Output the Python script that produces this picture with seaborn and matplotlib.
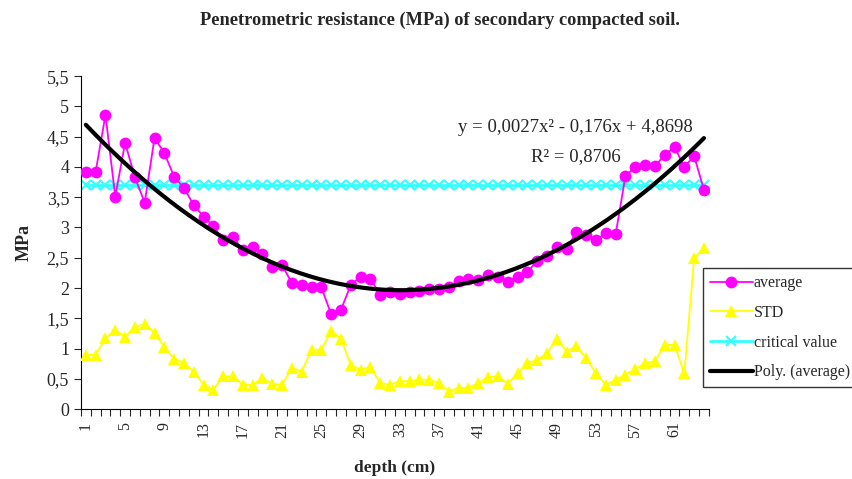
import numpy as np
import pandas as pd
import matplotlib
matplotlib.use("Agg")
import matplotlib.pyplot as plt
import seaborn as sns
from matplotlib.ticker import FixedLocator, FuncFormatter

# depth (cm), one value per centimetre
depth = list(range(1, 65))

average = [3.92, 3.92, 4.86, 3.51, 4.40, 3.83, 3.41, 4.48, 4.23, 3.84,
           3.65, 3.37, 3.18, 3.02, 2.79, 2.84, 2.63, 2.67, 2.57, 2.34,
           2.38, 2.08, 2.05, 2.01, 2.01, 1.57, 1.64, 2.05, 2.19, 2.15,
           1.89, 1.94, 1.90, 1.93, 1.95, 1.98, 1.99, 2.02, 2.11, 2.15,
           2.13, 2.22, 2.18, 2.10, 2.19, 2.27, 2.44, 2.53, 2.68, 2.64,
           2.93, 2.88, 2.79, 2.91, 2.89, 3.85, 4.00, 4.03, 4.01, 4.20,
           4.33, 4.00, 4.18, 3.62]

std = [0.90, 0.90, 1.17, 1.31, 1.19, 1.36, 1.40, 1.26, 1.02, 0.83,
       0.76, 0.62, 0.40, 0.32, 0.54, 0.54, 0.40, 0.40, 0.51, 0.42,
       0.40, 0.68, 0.62, 0.98, 0.98, 1.29, 1.16, 0.73, 0.65, 0.70,
       0.43, 0.40, 0.46, 0.46, 0.49, 0.48, 0.43, 0.29, 0.35, 0.35,
       0.43, 0.53, 0.54, 0.42, 0.59, 0.76, 0.81, 0.92, 1.16, 0.95,
       1.04, 0.84, 0.59, 0.40, 0.48, 0.57, 0.66, 0.76, 0.79, 1.06,
       1.06, 0.59, 2.49, 2.66]

critical = [3.7] * 64

y_ticks = [0, 0.5, 1, 1.5, 2, 2.5, 3, 3.5, 4, 4.5, 5, 5.5]
x_labels = list(range(1, 62, 4))

equation = "y = 0,0027x² - 0,176x + 4,8698"
r_squared = "R² = 0,8706"


def comma(v, pos):
    """Formats tick values with a decimal comma, like the original."""
    return ("%g" % v).replace(".", ",")


def main():
    sns.set_style("white")
    plt.rcParams["font.family"] = ["Liberation Serif", "DejaVu Serif"]

    df = pd.DataFrame({"depth": depth, "average": average,
                       "STD": std, "critical value": critical})

    # quadratic trendline of the average, as Excel draws it
    coef = np.polyfit(df["depth"], df["average"], 2)
    xs = np.linspace(1, 64, 200)
    trend = np.polyval(coef, xs)

    fig, ax = plt.subplots(figsize=(8.52, 4.79), dpi=100)
    fig.subplots_adjust(left=0.095, right=0.832, bottom=0.146, top=0.841)

    cyan = "#33FFFF"
    sns.lineplot(data=df, x="depth", y="critical value", ax=ax,
                 color=cyan, marker="x", markersize=7,
                 markeredgewidth=1.5, markeredgecolor=cyan,
                 linewidth=2, label="critical value", zorder=2)
    sns.lineplot(data=df, x="depth", y="STD", ax=ax, color="#FFFF00",
                 marker="^", markersize=8.5, markeredgewidth=0,
                 linewidth=1.3, label="STD", zorder=3)
    sns.lineplot(data=df, x="depth", y="average", ax=ax, color="#FF00FF",
                 marker="o", markersize=8.5, markeredgewidth=0,
                 linewidth=1.3, label="average", zorder=4)
    sns.lineplot(x=xs, y=trend, ax=ax, color="black", linewidth=3,
                 label="Poly. (average)", zorder=5)

    ax.set_xlim(0.5, 64.5)
    ax.set_ylim(0, 5.5)
    ax.set_yticks(y_ticks)
    ax.yaxis.set_major_formatter(FuncFormatter(comma))
    ax.set_xticks(x_labels)
    ax.xaxis.set_minor_locator(FixedLocator(np.arange(0.5, 65, 1)))
    ax.tick_params(axis="x", which="major", length=0, pad=9,
                   labelrotation=90, labelsize=11.5)
    ax.tick_params(axis="x", which="minor", length=5, width=0.8,
                   direction="out", bottom=True)
    ax.tick_params(axis="y", length=5, width=0.8, direction="out",
                   left=True, labelsize=13)

    for side in ["top", "right"]:
        ax.spines[side].set_visible(False)
    for side in ["left", "bottom"]:
        ax.spines[side].set_color("black")
        ax.spines[side].set_linewidth(0.8)

    ax.set_xlabel("depth (cm)", fontsize=12.5, fontweight="bold",
                  labelpad=16)
    ax.set_ylabel("MPa", fontsize=13, fontweight="bold", labelpad=10)
    fig.suptitle("Penetrometric resistance (MPa) of secondary compacted soil.",
                 fontsize=13.2, fontweight="bold", x=0.516, y=0.975)

    ax.text(0.788, 0.847, equation, transform=ax.transAxes, ha="center",
            va="center", fontsize=13.5)
    ax.text(0.788, 0.757, r_squared, transform=ax.transAxes, ha="center",
            va="center", fontsize=13.5)

    handles, labels = ax.get_legend_handles_labels()
    order = ["average", "STD", "critical value", "Poly. (average)"]
    hmap = dict(zip(labels, handles))
    leg = ax.legend([hmap[k] for k in order], order,
                    loc="upper left", bbox_to_anchor=(0.99, 0.423),
                    frameon=True, fancybox=False, fontsize=11.5,
                    handlelength=2.7, handletextpad=0.05,
                    borderpad=0.45, labelspacing=0.85, borderaxespad=0)
    leg.get_frame().set_edgecolor("black")
    leg.get_frame().set_linewidth(1.0)

    plt.savefig("out.png", dpi=100)


if __name__ == "__main__":
    main()
